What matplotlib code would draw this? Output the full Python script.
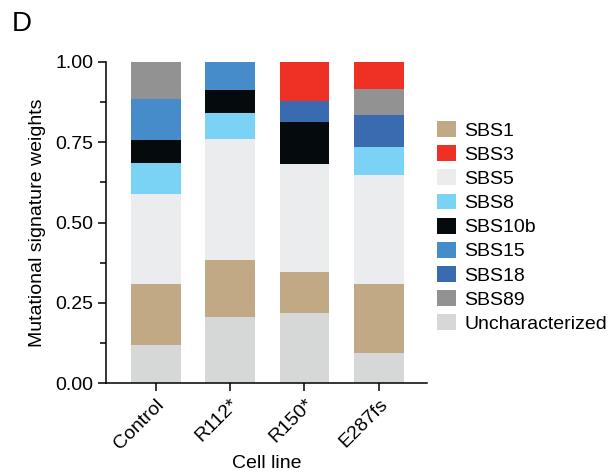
import numpy as np
import matplotlib
matplotlib.use("Agg")
import matplotlib.pyplot as plt
from matplotlib.ticker import MultipleLocator

plt.rcParams['font.family'] = ['Liberation Sans', 'DejaVu Sans']

# cell lines on the x axis
cell_lines = ["Control", "R112*", "R150*", "E287fs"]

# signature weights per cell line
uncharacterized = [0.120, 0.207, 0.218, 0.094]
sbs1 = [0.190, 0.175, 0.129, 0.214]
sbs5 = [0.278, 0.377, 0.336, 0.340]
sbs8 = [0.096, 0.083, 0.000, 0.086]
sbs10b = [0.072, 0.069, 0.131, 0.000]
sbs15 = [0.128, 0.089, 0.000, 0.000]
sbs18 = [0.000, 0.000, 0.064, 0.100]
sbs89 = [0.116, 0.000, 0.000, 0.080]
sbs3 = [0.000, 0.000, 0.122, 0.086]

# stacking order, bottom to top
stack = [
    ("Uncharacterized", uncharacterized, "#d6d8d7"),
    ("SBS1", sbs1, "#c2a986"),
    ("SBS5", sbs5, "#ebecee"),
    ("SBS8", sbs8, "#7ad3f5"),
    ("SBS10b", sbs10b, "#050a0d"),
    ("SBS15", sbs15, "#468bca"),
    ("SBS18", sbs18, "#3a6bb1"),
    ("SBS89", sbs89, "#929292"),
    ("SBS3", sbs3, "#ee3124"),
]
legend_order = ["SBS1", "SBS3", "SBS5", "SBS8", "SBS10b", "SBS15",
                "SBS18", "SBS89", "Uncharacterized"]

fig = plt.figure(figsize=(6.08, 4.72), dpi=100)
ax = fig.add_axes([0.174, 0.188, 0.528, 0.681])

x = np.arange(len(cell_lines))
bottom = np.zeros(len(cell_lines))
handles = {}
for name, vals, col in stack:
    vals = np.array(vals)
    b = ax.bar(x, vals, width=0.67, bottom=bottom, color=col,
               edgecolor="none", label=name)
    handles[name] = b
    bottom += vals

fs = 14

ax.set_xlim(-0.67, 3.645)
ax.set_ylim(0, 1)
ax.set_yticks([0, 0.25, 0.5, 0.75, 1.0])
ax.yaxis.set_minor_locator(MultipleLocator(0.125))
ax.set_yticklabels(["0.00", "0.25", "0.50", "0.75", "1.00"], fontsize=fs)
ax.set_xticks(x)
ax.set_xticklabels(cell_lines, fontsize=fs, rotation=45, ha="right",
                   rotation_mode="anchor")

for s in ["top", "right"]:
    ax.spines[s].set_visible(False)
for s in ["left", "bottom"]:
    ax.spines[s].set_linewidth(1.1)
ax.tick_params(axis="both", which="major", length=6, width=1.1, direction="out", pad=3)
ax.tick_params(axis="y", which="minor", length=4, width=1.1, direction="out")

ax.set_ylabel("Mutational signature weights", fontsize=fs, labelpad=7)
ax.set_xlabel("Cell line", fontsize=fs, labelpad=2)

fig.text(0.02, 0.949, "D", fontsize=20, va="center", ha="left")

fig.legend([handles[n] for n in legend_order], legend_order,
           loc="center left", bbox_to_anchor=(0.719, 0.519),
           frameon=False, fontsize=fs, handlelength=0.95, handleheight=0.88,
           handletextpad=0.45, labelspacing=0.28, borderpad=0, borderaxespad=0)

fig.savefig("out.png", dpi=100)
